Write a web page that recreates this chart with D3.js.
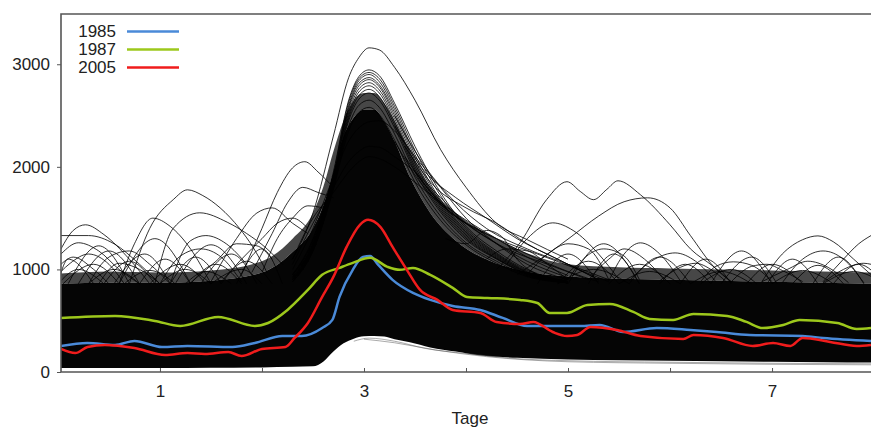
<!DOCTYPE html>
<html>
<head>
<meta charset="utf-8">
<script src="https://cdn.jsdelivr.net/npm/d3@7"></script>
<style>
body { margin: 0; background: #fff; }
svg { display: block; }
text { font-family: "Liberation Sans", Arial, sans-serif; fill: #222; }
</style>
</head>
<body>
<svg id="chart" width="871" height="427"></svg>
<script>
// ---- data (day, value) ----
const legendYears = ['1985', '1987', '2005']
const legendColors = ['#4a8ad8', '#9dc81c', '#f01c1c']
const yTicks = [0, 1000, 2000, 3000]
const xTicks = [1, 2, 3, 4, 5, 6, 7]

const line1985 = [[0.03,254],[0.29,283],[0.56,264],[0.75,303],[1.02,244],[1.27,254],[1.71,244],[1.93,283],[2.2,351],[2.39,351],[2.59,429],[2.69,508],[2.76,732],[2.89,996],[2.99,1122],[3.06,1132],[3.14,1044],[3.28,898],[3.48,771],[3.65,703],[3.87,644],[4.14,605],[4.36,527],[4.6,449],[4.79,449],[5.12,449],[5.31,459],[5.54,390],[5.87,429],[6.2,410],[6.46,390],[6.78,361],[7.3,351],[7.5,332],[7.97,303]]
const line1987 = [[0.03,527],[0.56,547],[0.95,498],[1.2,449],[1.57,537],[1.93,449],[2.06,478],[2.25,605],[2.45,800],[2.59,947],[2.76,1015],[2.89,1064],[3.06,1113],[3.23,1025],[3.35,996],[3.48,1015],[3.65,947],[3.87,820],[4.01,732],[4.21,722],[4.53,703],[4.7,673],[4.82,576],[4.99,576],[5.19,654],[5.41,664],[5.64,586],[5.8,517],[6.03,508],[6.23,566],[6.56,547],[6.75,488],[6.91,429],[7.11,459],[7.27,508],[7.64,478],[7.83,420],[7.97,429]]
const line2005 = [[0.03,225],[0.17,185],[0.29,244],[0.46,264],[0.75,234],[1.05,166],[1.27,185],[1.44,176],[1.67,195],[1.8,156],[2.0,225],[2.23,244],[2.32,332],[2.45,478],[2.59,732],[2.7,927],[2.83,1220],[2.96,1435],[3.04,1484],[3.16,1415],[3.28,1220],[3.42,996],[3.55,800],[3.72,703],[3.87,605],[4.14,576],[4.3,488],[4.53,468],[4.66,488],[4.85,390],[4.99,351],[5.09,361],[5.22,439],[5.48,410],[5.71,351],[6.13,322],[6.23,361],[6.52,332],[6.81,254],[7.01,283],[7.18,254],[7.3,332],[7.57,293],[7.83,254],[7.97,264]]

// envelope of the black mass of all other years
const envT     = [0.03, 0.5, 1.0, 1.5, 2.0, 2.3, 2.5, 2.6, 2.7, 2.8, 2.9, 3.0, 3.1, 3.2, 3.3, 3.45, 3.65, 3.9, 4.15, 4.5, 5.0, 5.5, 6.0, 6.5, 7.0, 7.5, 7.97]
const envLow   = [40, 40, 40, 42, 45, 50, 55, 100, 200, 280, 325, 348, 352, 345, 320, 290, 240, 200, 160, 138, 122, 115, 110, 105, 100, 96, 92]
const envDense = [860, 870, 870, 890, 970, 1170, 1400, 1620, 1950, 2300, 2480, 2560, 2560, 2440, 2250, 1900, 1550, 1280, 1120, 1000, 930, 910, 900, 890, 880, 870, 860]
const envMesh  = [960, 980, 970, 990, 1080, 1300, 1550, 1800, 2150, 2450, 2650, 2720, 2720, 2620, 2450, 2150, 1800, 1550, 1380, 1200, 1050, 1020, 1010, 1000, 990, 980, 970]

// nested curves of the big peak around day 3
const peakT = [2.3, 2.5, 2.7, 2.85, 2.95, 3.05, 3.15, 3.3, 3.5, 3.75, 4.0, 4.3, 4.6, 5.0]
const peakCurves = [
  [1100, 1550, 2300, 2870, 3065, 3160, 3140, 2970, 2650, 2170, 1800, 1450, 1290, 1100],
  [950, 1300, 1950, 2650, 2880, 2945, 2890, 2620, 2200, 1750, 1420, 1180, 1000, 880],
  [950, 1280, 1930, 2630, 2860, 2920, 2860, 2590, 2160, 1720, 1400, 1160, 990, 880],
  [950, 1250, 1900, 2600, 2840, 2900, 2830, 2560, 2120, 1680, 1380, 1150, 980, 880],
  [930, 1240, 1890, 2580, 2815, 2870, 2800, 2530, 2090, 1660, 1365, 1140, 975, 880],
  [920, 1230, 1880, 2560, 2790, 2850, 2780, 2500, 2060, 1640, 1350, 1130, 970, 880],
  [910, 1215, 1860, 2530, 2760, 2820, 2750, 2470, 2030, 1620, 1335, 1120, 965, 875],
  [900, 1200, 1850, 2500, 2730, 2790, 2720, 2440, 2000, 1600, 1320, 1110, 960, 870],
  [900, 1200, 1840, 2475, 2695, 2755, 2685, 2410, 1975, 1580, 1305, 1105, 955, 870],
  [900, 1200, 1830, 2450, 2660, 2720, 2650, 2380, 1950, 1560, 1290, 1100, 950, 870],
  [880, 1180, 1800, 2400, 2600, 2650, 2580, 2320, 1900, 1520, 1260, 1080, 940, 870],
  [880, 1180, 1780, 2350, 2530, 2580, 2510, 2260, 1850, 1480, 1240, 1060, 930, 870],
  [1000, 1400, 1900, 2250, 2380, 2440, 2450, 2350, 2100, 1800, 1500, 1250, 1050, 900],
  [1050, 1450, 1800, 2050, 2150, 2200, 2190, 2100, 1950, 1700, 1450, 1250, 1080, 920],
  [1100, 1500, 1750, 1950, 2050, 2100, 2080, 2000, 1850, 1650, 1480, 1300, 1120, 940]
]

// descending tails right of the peak
const fanCurves = [
  [[3.3,2500],[3.6,2000],[3.9,1650],[4.2,1400],[4.6,1200],[5.0,1050],[5.4,900]],
  [[3.3,2400],[3.6,1950],[3.9,1700],[4.2,1500],[4.5,1300],[4.9,1100],[5.3,900]],
  [[3.4,2200],[3.7,1800],[4.0,1600],[4.3,1450],[4.6,1250],[5.0,1050],[5.3,900]],
  [[3.4,2100],[3.7,1700],[4.0,1450],[4.3,1300],[4.7,1150],[5.1,1000],[5.4,880]],
  [[3.5,1950],[3.8,1600],[4.1,1380],[4.4,1200],[4.8,1050],[5.2,900]],
  [[3.3,2250],[3.55,1850],[3.85,1550],[4.2,1350],[4.6,1150],[5.0,980],[5.3,880]]
]

// single curves sticking out of the mass
const leftHumps = [
  [[0.03,1330],[0.3,1330],[0.55,1250],[0.8,1050],[1.0,860]],
  [[0.03,1200],[0.15,1380],[0.27,1435],[0.45,1340],[0.7,1100],[0.9,860]],
  [[0.03,1150],[0.2,1260],[0.4,1180],[0.6,1000],[0.8,860]],
  [[0.03,1050],[0.15,1120],[0.35,1000],[0.5,860]],
  [[0.03,980],[0.12,1060],[0.3,1150],[0.5,1050],[0.65,860]],
  [[0.3,860],[0.5,1120],[0.7,1180],[0.9,1050],[1.1,860]],
  [[0.4,860],[0.6,1060],[0.8,1000],[1.0,860]],
  [[0.6,860],[0.75,1250],[0.93,1500],[1.1,1420],[1.3,1200],[1.5,860]],
  [[0.7,860],[0.9,1400],[1.13,1680],[1.27,1776],[1.42,1720],[1.59,1600],[1.78,1400],[1.91,1220],[2.05,970]],
  [[0.95,860],[1.13,1400],[1.39,1552],[1.66,1460],[1.85,1350],[2.05,1200],[2.2,1050]],
  [[1.0,860],[1.2,1130],[1.4,1200],[1.6,1120],[1.8,880]],
  [[1.1,860],[1.3,1280],[1.45,1330],[1.65,1250],[1.85,1050]],
  [[1.3,870],[1.55,1080],[1.75,1250],[1.95,1230],[2.1,1100]],
  [[1.6,880],[1.8,1100],[2.0,1300],[2.15,1450],[2.3,1500],[2.45,1400]],
  [[1.8,950],[2.0,1400],[2.15,1750],[2.3,1990],[2.42,2050],[2.55,1950],[2.7,1800]],
  [[1.9,970],[2.1,1350],[2.25,1650],[2.4,1800],[2.55,1750],[2.7,1700]],
  [[2.0,970],[2.15,1300],[2.3,1500],[2.45,1620],[2.6,1600]],
  [[1.5,880],[1.75,1300],[1.95,1550],[2.1,1600],[2.3,1450],[2.45,1350]]
]
const rightHumps = [
  [[4.3,1000],[4.53,1260],[4.79,1680],[4.99,1855],[5.12,1760],[5.25,1680],[5.38,1780],[5.49,1864],[5.71,1728],[6.0,1435],[6.2,1200],[6.43,1025],[6.6,880]],
  [[4.5,950],[4.8,1150],[5.03,1318],[5.3,1520],[5.55,1660],[5.78,1698],[6.0,1600],[6.2,1330],[6.43,1025],[6.6,880]],
  [[4.4,1050],[4.6,1300],[4.85,1454],[5.05,1380],[5.3,1150],[5.5,900]],
  [[4.6,950],[4.8,1150],[5.0,1250],[5.2,1200],[5.4,900]],
  [[5.0,900],[5.15,1100],[5.35,1200],[5.55,1130],[5.7,900]],
  [[3.8,1300],[4.0,1250],[4.2,1380],[4.35,1320],[4.5,1100],[4.7,950]],
  [[4.2,1100],[4.4,1200],[4.6,1180],[4.8,1050],[5.0,900]],
  [[6.9,880],[7.1,1150],[7.3,1290],[7.45,1327],[7.6,1270],[7.8,1100],[7.97,950]],
  [[7.5,880],[7.7,1100],[7.85,1250],[7.97,1330]],
  [[5.4,890],[5.55,1150],[5.71,1259],[5.9,1150],[6.1,890]],
  [[6.3,880],[6.45,1030],[6.62,1074],[6.8,1040],[7.0,880]],
  [[6.6,880],[6.8,1030],[6.95,1050],[7.1,990],[7.3,880]],
  [[5.6,890],[5.85,1100],[6.05,1161],[6.25,1080],[6.45,880]],
  [[7.1,870],[7.3,1100],[7.5,1180],[7.7,1100],[7.9,870]],
  [[5.2,900],[5.4,1100],[5.55,1200],[5.75,1100],[5.95,890]],
  [[6.9,880],[7.15,1000],[7.35,1080],[7.55,1020],[7.75,870]],
  [[7.5,870],[7.7,1000],[7.9,1060],[7.97,1050]],
  [[5.9,890],[6.1,1020],[6.25,1060],[6.4,1000],[6.55,880]]
]
// small arches in the band just above the solid mass: [start, peak day, peak value, end]
const bandArches = [
  [0.0,0.1,1100,0.35],[0.05,0.35,1050,0.6],[0.2,0.5,1180,0.8],[0.45,0.7,1080,0.95],
  [0.55,0.85,1150,1.1],[0.8,1.05,1100,1.3],[0.9,1.2,1050,1.45],[1.1,1.35,1120,1.6],
  [1.3,1.55,1050,1.8],[1.4,1.7,1150,1.95],[1.6,1.85,1080,2.1],[1.75,2.0,1200,2.2],
  [0.0,0.2,1000,0.45],[0.3,0.55,1000,0.8],[0.65,0.9,990,1.15],[1.0,1.25,1000,1.5],
  [1.25,1.45,980,1.7],[1.5,1.8,1000,2.0],[0.1,0.4,1230,0.7],[1.15,1.5,1240,1.85],
  [0.6,0.95,1300,1.3],[4.7,5.0,1150,5.3],[4.9,5.2,1080,5.5],[5.2,5.45,1150,5.7],
  [5.4,5.7,1050,6.0],[5.6,5.9,1120,6.2],[5.9,6.15,1050,6.4],[6.1,6.35,1100,6.6],
  [6.3,6.6,1000,6.85],[6.5,6.8,1120,7.05],[6.75,7.0,1050,7.3],[6.95,7.2,1100,7.45],
  [7.2,7.45,1040,7.7],[7.4,7.65,1120,7.9],[7.6,7.85,1050,8.1],[4.9,5.25,1000,5.6],
  [5.5,5.8,980,6.1],[6.2,6.5,980,6.8],[7.0,7.3,990,7.6],[7.5,7.8,980,8.1],
  [6.4,6.7,1180,7.0],[5.0,5.35,1250,5.7]
]
const lowCurves = [
  [[2.9,300],[3.05,330],[3.3,300],[3.6,230],[4.0,180],[4.5,130],[5.0,110],[6.0,95],[7.0,85],[7.97,80]],
  [[3.0,320],[3.3,285],[3.7,215],[4.2,150],[5.0,100],[6.0,85],[7.0,75],[7.97,70]]
]

// ---- scales ----
const svg = d3.select('#chart')
const x = d3.scaleLinear().domain([0.03, 7.97]).range([61, 871])
const y = d3.scaleLinear().domain([0, 3490]).range([372, 14])

svg.append('defs').append('clipPath').attr('id', 'clip')
  .append('rect').attr('x', 61).attr('y', 14).attr('width', 810).attr('height', 358)

const plot = svg.append('g').attr('clip-path', 'url(#clip)')

const line = d3.line().x(d => x(d[0])).y(d => y(d[1])).curve(d3.curveMonotoneX)

// mesh (many thin lines) and the solid core
plot.append('path')
  .attr('d', d3.area().x((d, i) => x(envT[i])).y0((d, i) => y(envDense[i])).y1((d, i) => y(envMesh[i])).curve(d3.curveMonotoneX)(envT))
  .attr('fill', '#000').attr('opacity', 0.72)
plot.append('path')
  .attr('d', d3.area().x((d, i) => x(envT[i])).y0((d, i) => y(envLow[i])).y1((d, i) => y(envDense[i])).curve(d3.curveMonotoneX)(envT))
  .attr('fill', '#050505')

const arches = bandArches.map(a => [[a[0], 860], [a[1], a[2]], [a[3], 860]])
const blackLines = arches.concat(leftHumps, rightHumps, fanCurves, peakCurves.map(c => c.map((v, i) => [peakT[i], v])))
plot.selectAll('.hump')
  .data(blackLines)
  .join('path')
    .attr('class', 'hump')
    .attr('d', line)
    .attr('fill', 'none')
    .attr('stroke', '#000')
    .attr('stroke-width', 1)
    .attr('opacity', 0.8)

plot.selectAll('.low')
  .data(lowCurves)
  .join('path')
    .attr('class', 'low')
    .attr('d', line)
    .attr('fill', 'none')
    .attr('stroke', '#555')
    .attr('stroke-width', 1)
    .attr('opacity', 0.5)

// the three highlighted years
const yearLines = [line1985, line1987, line2005]
plot.selectAll('.year')
  .data(yearLines)
  .join('path')
    .attr('class', 'year')
    .attr('d', line)
    .attr('fill', 'none')
    .attr('stroke', (d, i) => legendColors[i])
    .attr('stroke-width', 2.5)

// frame
svg.append('path')
  .attr('d', `M${x(7.97)},14H61V372H${x(7.97)}`)
  .attr('fill', 'none').attr('stroke', '#555').attr('stroke-width', 1.6)

// axes
const yAxis = svg.append('g').attr('transform', 'translate(61,0)')
  .call(d3.axisLeft(y).tickValues(yTicks).tickSize(4).tickPadding(7).tickFormat(d3.format('d')))
yAxis.select('.domain').remove()
yAxis.selectAll('text').attr('font-size', 17).style('font-family', null)
yAxis.selectAll('line').attr('stroke', '#555')

const xAxis = svg.append('g').attr('transform', 'translate(0,372)')
  .call(d3.axisBottom(x).tickValues(xTicks).tickSize(-4).tickPadding(13).tickFormat(d => d % 2 ? d : ''))
xAxis.select('.domain').remove()
xAxis.selectAll('text').attr('font-size', 17).style('font-family', null)
xAxis.selectAll('line').attr('stroke', '#555')

svg.append('text')
  .attr('x', 470).attr('y', 424)
  .attr('text-anchor', 'middle')
  .attr('font-size', 17)
  .text('Tage')

// legend
const legend = svg.selectAll('.legend')
  .data(legendYears)
  .join('g')
    .attr('class', 'legend')
    .attr('transform', (d, i) => `translate(0,${31.5 + i * 18})`)
legend.append('text')
  .attr('x', 116).attr('y', 5.5)
  .attr('text-anchor', 'end')
  .attr('font-size', 17)
  .text(d => d)
legend.append('line')
  .attr('x1', 127).attr('x2', 179)
  .attr('stroke', (d, i) => legendColors[i])
  .attr('stroke-width', 2.5)
</script>
</body>
</html>
